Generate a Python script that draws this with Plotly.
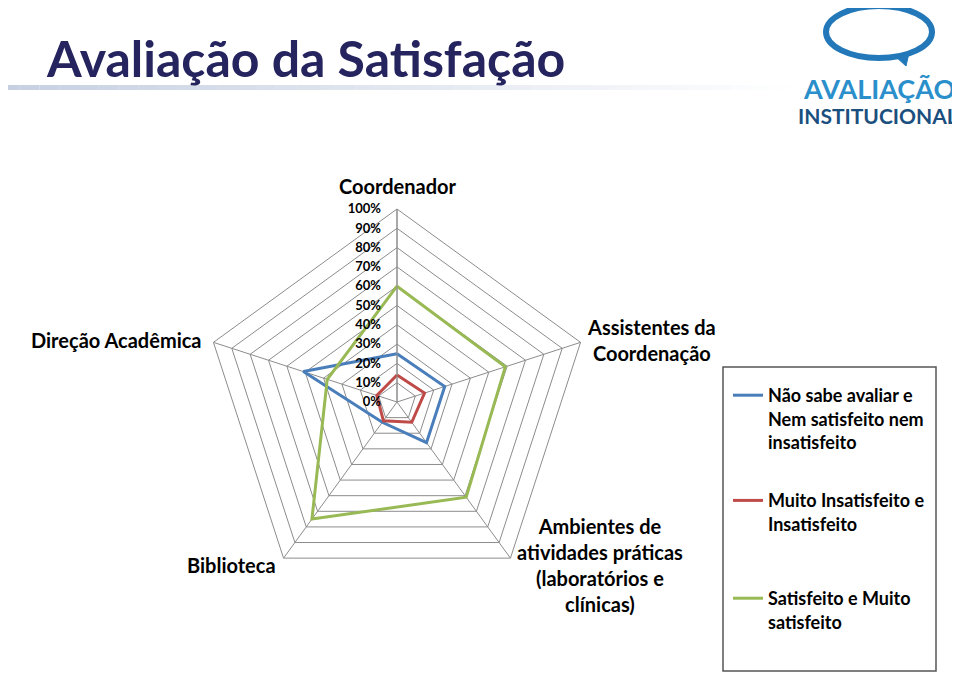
import plotly.graph_objects as go

categories = ["Coordenador", "Assistentes da Coordenação",
              "Ambientes de atividades práticas (laboratórios e clínicas)",
              "Biblioteca", "Direção Acadêmica"]
category_labels = ["Coordenador", "Assistentes da<br>Coordenação",
                   "Ambientes de<br>atividades práticas<br>(laboratórios e<br>clínicas)",
                   "Biblioteca", "Direção Acadêmica"]
nao_sabe = [0.25, 0.26, 0.26, 0.13, 0.51]
insatisfeito = [0.14, 0.15, 0.13, 0.12, 0.11]
satisfeito = [0.60, 0.59, 0.61, 0.75, 0.38]
series_names = ["Não sabe avaliar e<br>Nem satisfeito nem<br>insatisfeito",
                "Muito Insatisfeito e<br>Insatisfeito",
                "Satisfeito e Muito<br>satisfeito"]
colors = ["#4A7EBB", "#BE4B48", "#98B954"]

# page body has an 8px margin: figure is drawn at (8, 8) in the window
OFF = 8
W, H = 960 - OFF, 673 - OFF
def px(x):
    return (x - OFF) / W
def py(y):
    return 1 - (y - OFF) / H

fig = go.Figure()
legend_refs = ["legend", "legend", "legend2"]
for i, (vals, name) in enumerate(zip([nao_sabe, insatisfeito, satisfeito], series_names)):
    fig.add_trace(go.Scatterpolar(
        r=vals + vals[:1], theta=categories + categories[:1],
        mode="lines", name=name, legendgroup=str(i), legend=legend_refs[i],
        line=dict(color=colors[i], width=3), hoverinfo="skip"))

cx, cy, R = 397, 402, 193
shapes = []
# gradient rule under title
nseg = 40
for k in range(nseg):
    x0 = k * 790 / nseg
    x1 = (k + 1) * 790 / nseg
    op = 0.85 * (1 - k / nseg)
    shapes.append(dict(type="rect", xref="paper", yref="paper",
                       x0=px(x0), x1=px(x1), y0=py(90), y1=py(85),
                       fillcolor="#BCC8DC", opacity=op, line=dict(width=0), layer="below"))
# legend box
shapes.append(dict(type="rect", xref="paper", yref="paper",
                   x0=px(723), x1=px(936), y0=py(671), y1=py(367),
                   line=dict(color="#555555", width=1.5), fillcolor="rgba(0,0,0,0)"))
# logo bubble
shapes.append(dict(type="circle", xref="paper", yref="paper",
                   x0=px(826), x1=px(932), y0=py(58), y1=py(6),
                   line=dict(color="#2278B8", width=6), fillcolor="rgba(0,0,0,0)"))
shapes.append(dict(type="path", xref="paper", yref="paper",
                   path=f"M {px(895)},{py(56)} L {px(906)},{py(66)} L {px(909)},{py(53)} Z",
                   fillcolor="#2278B8", line=dict(color="#2278B8", width=1)))

cat_font = dict(family="Lato", size=20, color="#000000", weight="bold")
cat_pos = [  # (x, y, xanchor)
    (397, 186, "center"),
    (651, 340, "center"),
    (600, 565, "center"),
    (278, 565, "right"),
    (204, 340, "right"),
]
annotations = [
    dict(text="Avaliação da Satisfação", x=px(44), y=py(58), xref="paper", yref="paper",
         xanchor="left", yanchor="middle", showarrow=False,
         font=dict(family="Lato", size=50, color="#25245E", weight="bold")),
    dict(text="AVALIAÇÃO", x=px(879), y=py(88), xref="paper", yref="paper",
         xanchor="center", yanchor="middle", showarrow=False,
         font=dict(family="Lato", size=27, color="#2A8FCB", weight="bold")),
    dict(text="INSTITUCIONAL", x=px(878), y=py(115), xref="paper", yref="paper",
         xanchor="center", yanchor="middle", showarrow=False,
         font=dict(family="Lato", size=21, color="#1A4F7E", weight="bold")),
]
for lab, (x, y, xa) in zip(category_labels, cat_pos):
    annotations.append(dict(text=lab, x=px(x), y=py(y), xref="paper", yref="paper",
                            xanchor=xa, yanchor="middle", align="center", showarrow=False,
                            font=cat_font))

leg_font = dict(family="Lato", size=18, color="#000000", weight="bold")
fig.update_layout(
    width=W, height=H, margin=dict(l=0, r=0, t=0, b=0),
    paper_bgcolor="white", plot_bgcolor="white",
    font=dict(family="Lato", color="#000000"),
    shapes=shapes, annotations=annotations,
    polar=dict(
        domain=dict(x=[px(cx - R), px(cx + R)], y=[py(cy + R), py(cy - R)]),
        bgcolor="white", gridshape="linear",
        radialaxis=dict(range=[0, 1], dtick=0.1, tickformat=".0%", angle=90, tickangle=90,
                        side="counterclockwise", showline=True, linecolor="#8C8C8C",
                        gridcolor="#8C8C8C", gridwidth=1,
                        ticks="outside", ticklen=11, tickcolor="rgba(0,0,0,0)",
                        tickfont=dict(family="Lato", size=13, color="#000000", weight="bold")),
        angularaxis=dict(rotation=90, direction="clockwise", showline=True,
                         linecolor="#8C8C8C", gridcolor="#8C8C8C", ticks="",
                         showticklabels=False),
    ),
    legend=dict(x=px(728), y=py(377), xanchor="left", yanchor="top",
                valign="top", tracegroupgap=32, bgcolor="rgba(0,0,0,0)",
                font=leg_font, itemwidth=30),
    legend2=dict(x=px(728), y=py(580), xanchor="left", yanchor="top",
                 valign="top", bgcolor="rgba(0,0,0,0)",
                 font=leg_font, itemwidth=30),
)

fig.write_html("out.html")
